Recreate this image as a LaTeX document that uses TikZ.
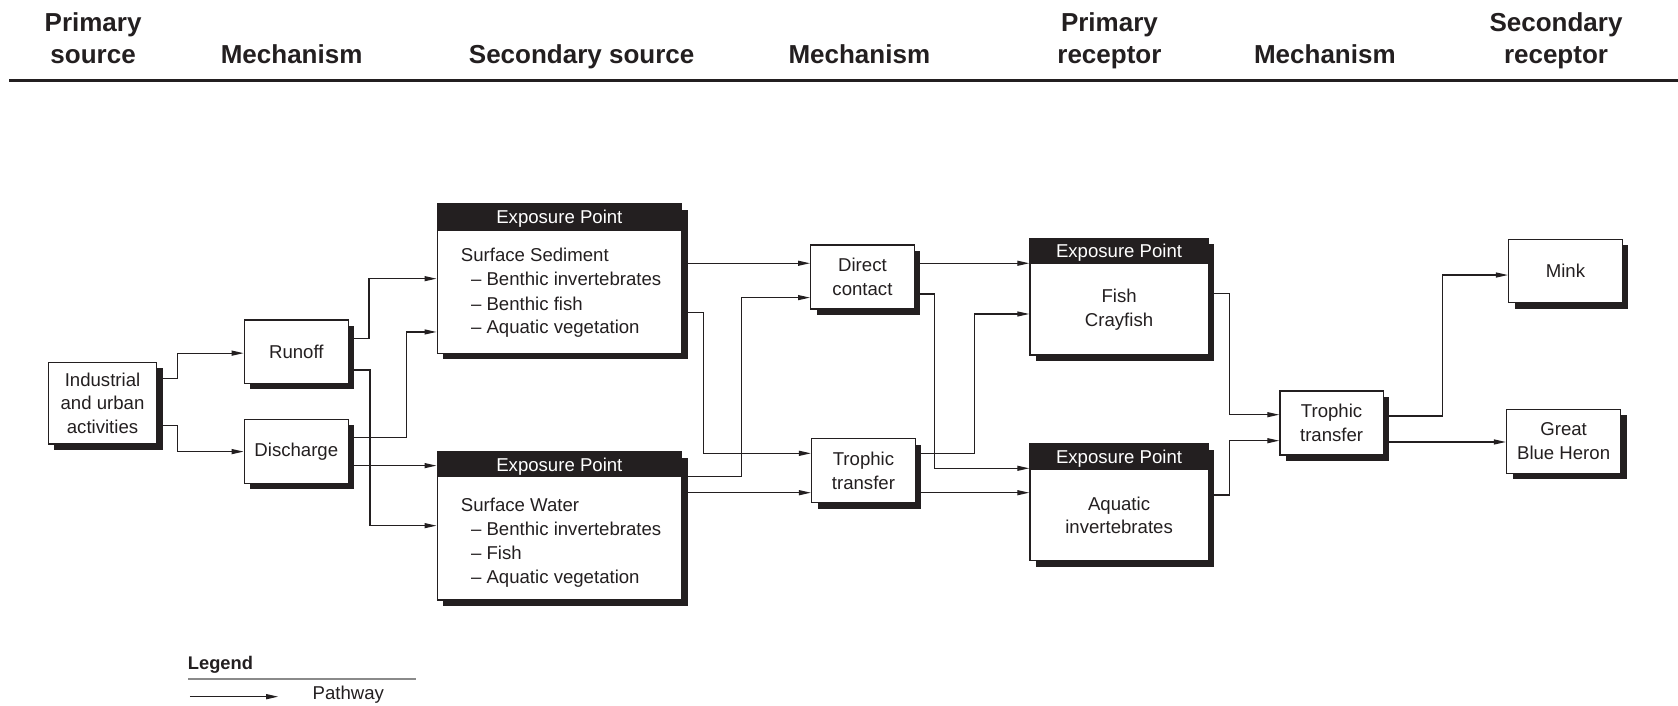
\documentclass[tikz,border=0pt]{standalone}
\usepackage{fontspec}
\setmainfont{Liberation Sans}
\usetikzlibrary{fit,shadows,arrows.meta}
\definecolor{dark}{HTML}{231F20}
\definecolor{leggray}{HTML}{8A8A8A}
\newcommand\myfnt{\fontsize{18.6}{23.5}\selectfont}
\newcommand\myhead{\fontsize{26}{31}\selectfont\bfseries}
\newcommand\myleg{\fontsize{18.3}{22}\selectfont\bfseries}
\begin{document}
\begin{tikzpicture}[x=1.0702pt,y=-1.0702pt,
  box/.style={draw=dark, line width=1.3pt, fill=white, inner sep=0pt,
    drop shadow={shadow xshift=6pt, shadow yshift=-6pt, fill=dark, opacity=1}},
  hdr/.style={font=\myhead, text=dark, anchor=base, inner sep=0pt},
  txt/.style={font=\myfnt, text=dark, anchor=base west, inner sep=0pt},
  eptxt/.style={font=\myfnt, text=white, anchor=base, inner sep=0pt},
  ctxt/.style={font=\myfnt, text=dark, align=center, inner sep=0pt},
  arr/.style={draw=dark, line width=1.2pt, -{Triangle[length=12pt,width=5pt]}},
  band/.style={fill=dark}]
\useasboundingbox (0,0) rectangle (1568,659);

% ---------- header ----------
\node[hdr] (h1a) at (87,29.6) {Primary};
\node[hdr] (h1b) at (87,59.2) {source};
\node[hdr] (h2)  at (272.5,59.2) {Mechanism};
\node[hdr] (h3)  at (543.5,59.2) {Secondary source};
\node[hdr] (h4)  at (803,59.2) {Mechanism};
\node[hdr] (h5a) at (1036.7,29.6) {Primary};
\node[hdr] (h5b) at (1036.7,59.2) {receptor};
\node[hdr] (h6)  at (1238,59.2) {Mechanism};
\node[hdr] (h7a) at (1454,29.6) {Secondary};
\node[hdr] (h7b) at (1454,59.2) {receptor};
\coordinate (hl) at (8.7,74.8);
\coordinate (hr) at (1568,74.8);
\draw[dark, line width=3pt] (hl) -- (hr);

% ---------- boxes ----------
\node[box, fit={(45.2,338.6) (146.4,414.9)}] (ind) {};
\node[box, fit={(228.3,299) (325.5,358.2)}] (run) {};
\node[box, fit={(228.3,391.8) (325.5,451.6)}] (dis) {};
\node[box, fit={(408.5,190.6) (637,330)}] (sed) {};
\node[box, fit={(408.5,422) (637,560.6)}] (wat) {};
\node[box, fit={(757.5,229) (854.3,288.7)}] (dir) {};
\node[box, fit={(758.4,409.9) (855.3,469.7)}] (tro) {};
\node[box, fit={(962.4,222.7) (1129,331.7)}] (fish) {};
\node[box, fit={(962.4,414.9) (1129,523.9)}] (aq) {};
\node[box, fit={(1196,365.4) (1292.6,425.2)}] (tr) {};
\node[box, fit={(1409.7,223.6) (1515.9,282.8)}] (mink) {};
\node[box, fit={(1407.8,382.5) (1514.4,442.3)}] (heron) {};

% centred labels
\node[ctxt] (indt) at (ind.center) {Industrial\\and urban\\activities};
\node[ctxt] (runt) at (run.center) {Runoff};
\node[ctxt] (dist) at (dis.center) {Discharge};
\node[ctxt] (dirt) at (dir.center) {Direct\\contact};
\node[ctxt] (trot) at (tro.center) {Trophic\\transfer};
\node[ctxt] (trt) at (tr.center) {Trophic\\transfer};
\node[ctxt] (minkt) at (mink.center) {Mink};
\node[ctxt] (heront) at (heron.center) {Great\\Blue Heron};

% exposure point bands
\fill[band] (sed.north west) rectangle (sed.east |- 0,215.5);
\fill[band] (wat.north west) rectangle (wat.east |- 0,446);
\fill[band] (fish.north west) rectangle (fish.east |- 0,247);
\fill[band] (aq.north west) rectangle (aq.east |- 0,439.2);
\node[eptxt] (ep1) at (522.7,208.7) {Exposure Point};
\node[eptxt] (ep2) at (522.7,440.2) {Exposure Point};
\node[eptxt] (ep3) at (1045.7,240.5) {Exposure Point};
\node[eptxt] (ep4) at (1045.7,432.7) {Exposure Point};

% box contents
\node[txt] (s1) at (430.5,244.5) {Surface Sediment};
\node[txt] (s2) at (440,267.2) {– Benthic invertebrates};
\node[txt] (s3) at (440,289.7) {– Benthic fish};
\node[txt] (s4) at (440,312.1) {– Aquatic vegetation};
\node[txt] (w1) at (430.5,478) {Surface Water};
\node[txt] (w2) at (440,500.5) {– Benthic invertebrates};
\node[txt] (w3) at (440,522.6) {– Fish};
\node[txt] (w4) at (440,545) {– Aquatic vegetation};
\node[ctxt] (f1) at (1045.7,289.3) {Fish\\Crayfish};
\node[ctxt] (a1) at (1045.7,481.5) {Aquatic\\invertebrates};

% ---------- connectors ----------
\draw[arr] (ind.east |- 0,353.8) -| (166,330) -- (run.west |- 0,330);
\draw[arr] (ind.east |- 0,397.4) -| (166,422) -- (dis.west |- 0,422);
\draw[arr] (run.east |- 0,316.5) -| (344.8,260.4) -- (sed.west |- 0,260.4);
\draw[arr] (run.east |- 0,345.7) -| (345.7,491.2) -- (wat.west |- 0,491.2);
\draw[arr] (dis.east |- 0,408.6) -| (380,310.2) -- (sed.west |- 0,310.2);
\draw[arr] (dis.east |- 0,435.1) -- (wat.west |- 0,435.1);
\draw[arr] (sed.east |- 0,246) -- (dir.west |- 0,246);
\draw[arr] (sed.east |- 0,292.2) -| (657.5,423.6) -- (tro.west |- 0,423.6);
\draw[arr] (wat.east |- 0,445.4) -| (693,278.1) -- (dir.west |- 0,278.1);
\draw[arr] (wat.east |- 0,460.4) -- (tro.west |- 0,460.4);
\draw[arr] (dir.east |- 0,246) -- (fish.west |- 0,246);
\draw[arr] (dir.east |- 0,274.7) -| (873,437.6) -- (aq.west |- 0,437.6);
\draw[arr] (tro.east |- 0,423.6) -| (910.4,293.4) -- (fish.west |- 0,293.4);
\draw[arr] (tro.east |- 0,460.4) -- (aq.west |- 0,460.4);
\draw[arr] (fish.east |- 0,274) -| (1148.7,387.5) -- (tr.west |- 0,387.5);
\draw[arr] (aq.east |- 0,462.5) -| (1148.7,411.8) -- (tr.west |- 0,411.8);
\draw[arr] (tr.east |- 0,388.7) -| (1348,257) -- (mink.west |- 0,257);
\draw[arr] (tr.east |- 0,413) -- (heron.west |- 0,413);

% ---------- legend ----------
\node[font=\myleg, text=dark, anchor=base west, inner sep=0pt] (leg) at (175.4,626) {Legend};
\coordinate (lgl) at (175.7,634.5);
\coordinate (lgr) at (389,634.5);
\draw[leggray, line width=1.6pt] (lgl) -- (lgr);
\coordinate (la) at (177.5,651);
\coordinate (lb) at (260,651);
\draw[arr] (la) -- (lb);
\node[txt] (pw) at (292,654) {Pathway};
\end{tikzpicture}
\end{document}
